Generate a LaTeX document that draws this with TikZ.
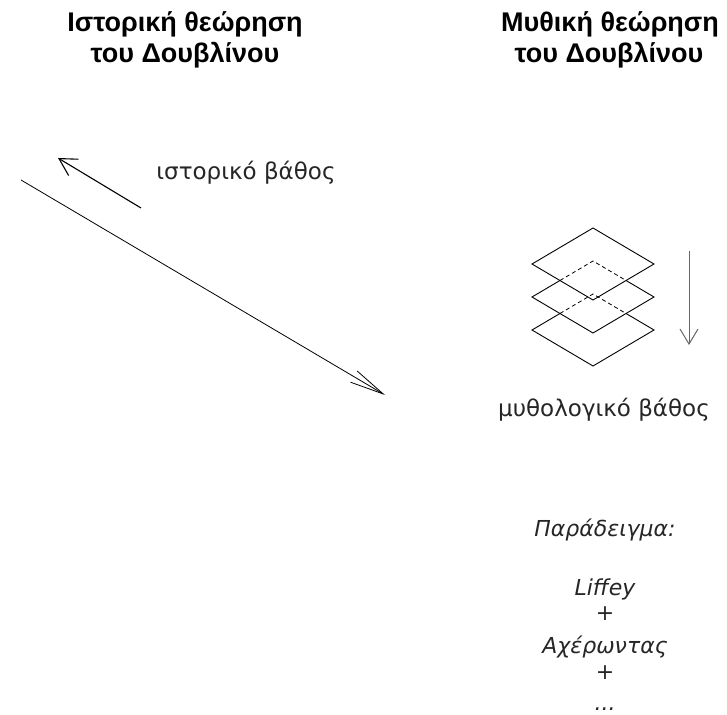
\documentclass[tikz,border=0pt]{standalone}
\usepackage{fontspec}
\setmainfont{DejaVu Sans}
\newfontfamily\titlefont{Liberation Sans}
\usetikzlibrary{arrows.meta,calc}
\begin{document}
\begin{tikzpicture}[x=1pt,y=-1pt,
  title/.style={font=\titlefont\bfseries\fontsize{27}{31}\selectfont, anchor=base, inner sep=0pt},
  depthlabel/.style={font=\fontsize{23}{27}\selectfont, text=black!85, anchor=base, inner sep=0pt},
  example/.style={font=\itshape\fontsize{22}{26}\selectfont, text=black!85, anchor=base, inner sep=0pt},
  layer/.style={line width=0.9pt, line join=miter},
  hidden/.style={line width=0.8pt, dash pattern=on 4pt off 3pt},
]
\useasboundingbox (0,0) rectangle (727,714);

% titles
\node[title] (t1a) at (185,32) {Ιστορική θεώρηση};
\node[title] (t1b) at (185,63) {του Δουβλίνου};
\node[title] (t2a) at (610,32) {Μυθική θεώρηση};
\node[title] (t2b) at (609,63) {του Δουβλίνου};

% historical depth arrows
\coordinate (sa) at (141,208);
\coordinate (sb) at (58,158);
\draw[line width=1.1pt, -{Straight Barb[length=17pt,width=19pt]}] (sa) -- (sb);
\coordinate (la) at (21,180);
\coordinate (lb) at (385,395);
\draw[line width=0.8pt, -{Straight Barb[length=34pt,width=13pt]}] (la) -- (lb);
\node[depthlabel] (hd) at (246,179) {ιστορικό βάθος};

% stacked layers
\coordinate (l1) at (532,264); \coordinate (u1) at (593,228);
\coordinate (r1) at (654,264); \coordinate (d1) at (593,300);
\coordinate (l2) at (532,297); \coordinate (u2) at (593,261);
\coordinate (r2) at (654,297); \coordinate (d2) at (593,333);
\coordinate (l3) at (532,330); \coordinate (u3) at (593,294);
\coordinate (r3) at (654,330); \coordinate (d3) at (593,366);
\coordinate (p2) at ($(l2)!0.458!(u2)$); \coordinate (q2) at ($(r2)!0.458!(u2)$);
\coordinate (p3) at ($(l3)!0.458!(u3)$); \coordinate (q3) at ($(r3)!0.458!(u3)$);

\draw[layer] (l1) -- (u1) -- (r1) -- (d1) -- cycle;
\draw[layer] (p2) -- (l2) -- (d2) -- (r2) -- (q2);
\draw[hidden] (p2) -- (u2) -- (q2);
\draw[layer] (p3) -- (l3) -- (d3) -- (r3) -- (q3);
\draw[hidden] (p3) -- (u3) -- (q3);

% mythical depth arrow
\coordinate (va) at (689,251);
\coordinate (vb) at (689,345);
\draw[black!60, line width=1pt, -{Straight Barb[length=15pt,width=18pt]}] (va) -- (vb);
\node[depthlabel] (md) at (604,416) {μυθολογικό βάθος};

% example
\node[example] (ex) at (605,536) {Παράδειγμα:};
\node[example] (liffey) at (605,595) {Liffey};
\node[example] (plus1) at (605,620) {+};
\node[example] (acheron) at (605,653) {Αχέρωντας};
\node[example] (plus2) at (605,679) {+};
\node[example] (dots) at (605,710) {...};
\end{tikzpicture}
\end{document}
